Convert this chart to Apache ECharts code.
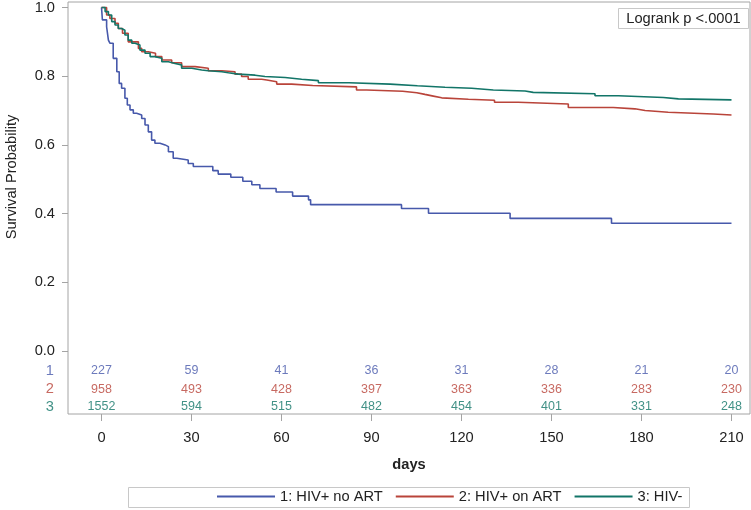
<!DOCTYPE html>
<html>
<head>
<meta charset="utf-8">
<script src="https://cdn.jsdelivr.net/npm/echarts@6/dist/echarts.min.js"></script>
<style>
html,body{margin:0;padding:0;background:#fff;}
#chart{width:751px;height:510px;}
</style>
</head>
<body>
<div id="chart"></div>
<script>
// ---- data ----
const seriesNames = ['1: HIV+ no ART', '2: HIV+ on ART', '3: HIV-'];

const g1Days = [0, 0.3, 1.7, 2.3, 2.8, 3.9, 5.1, 5.9, 6.7, 7.8, 8.6, 9.5, 10.6, 11.7, 13.4, 14.5, 15.6, 16.7, 17.8, 19.5, 21.2, 22.3, 23.9, 25.1, 28.9, 30.6, 37.1, 38.9, 43.1, 47.1, 50.1, 52.8, 58.2, 63.7, 69.0, 69.7, 100.0, 109.0, 136.2, 170.0, 210];
const g1Surv = [1.0, 0.964, 0.944, 0.905, 0.896, 0.852, 0.813, 0.779, 0.765, 0.736, 0.716, 0.702, 0.692, 0.687, 0.677, 0.658, 0.638, 0.614, 0.605, 0.600, 0.595, 0.580, 0.561, 0.556, 0.546, 0.537, 0.525, 0.515, 0.506, 0.494, 0.484, 0.473, 0.463, 0.451, 0.440, 0.426, 0.415, 0.401, 0.386, 0.372, 0.372];

const g2Days = [0, 1.7, 2.8, 4.5, 5.6, 7.0, 8.9, 12.3, 13.4, 15.6, 18.0, 20.1, 23.4, 26.7, 31.2, 35.6, 40.1, 44.5, 46.7, 48.9, 53.4, 55.1, 58.4, 63.4, 70.4, 85.0, 88.4, 100.4, 105.1, 107.8, 110.6, 113.4, 122.3, 131.0, 138.9, 155.6, 170.6, 177.8, 181.2, 188.9, 203.9, 210];
const g2Surv = [1.0, 0.978, 0.968, 0.954, 0.939, 0.925, 0.900, 0.881, 0.871, 0.867, 0.857, 0.847, 0.839, 0.828, 0.823, 0.816, 0.813, 0.806, 0.799, 0.791, 0.789, 0.784, 0.777, 0.773, 0.769, 0.760, 0.756, 0.752, 0.747, 0.742, 0.737, 0.733, 0.730, 0.724, 0.719, 0.709, 0.705, 0.700, 0.695, 0.690, 0.687, 0.687];

const g3Days = [0, 1.2, 2.3, 3.4, 4.5, 5.6, 6.7, 7.8, 8.9, 10.1, 11.2, 12.8, 14.5, 16.2, 17.8, 20.1, 22.3, 24.5, 26.7, 30.1, 33.4, 35.6, 40.1, 42.3, 45.6, 51.2, 54.5, 61.2, 66.7, 72.3, 82.5, 96.2, 105.3, 114.5, 123.4, 130.6, 141.2, 143.9, 164.5, 172.3, 187.3, 192.3, 210];
const g3Surv = [1.0, 0.988, 0.978, 0.959, 0.949, 0.939, 0.934, 0.920, 0.905, 0.896, 0.891, 0.876, 0.867, 0.857, 0.852, 0.842, 0.837, 0.833, 0.823, 0.818, 0.816, 0.813, 0.810, 0.806, 0.803, 0.799, 0.796, 0.791, 0.787, 0.781, 0.777, 0.772, 0.768, 0.765, 0.760, 0.757, 0.753, 0.749, 0.743, 0.738, 0.734, 0.731, 0.731];

const riskDays = [0, 30, 60, 90, 120, 150, 180, 210];
const risk1 = [227, 59, 41, 36, 31, 28, 21, 20];
const risk2 = [958, 493, 428, 397, 363, 336, 283, 230];
const risk3 = [1552, 594, 515, 482, 454, 401, 331, 248];
const riskRowLabels = ['1', '2', '3'];

const xTicks = [0, 30, 60, 90, 120, 150, 180, 210];
const yTicks = [0, 0.2, 0.4, 0.6, 0.8, 1.0];

// ---- styling / layout ----
const colors = ['#4759ab', '#b9443a', '#127568'];
const FONT = '"Liberation Sans", Arial, sans-serif';
const FS = 14.67;
const riskRowY = [-0.058, -0.111, -0.163];
const rowLabelX = -17.2;

function zip(a, b) { return a.map((v, i) => [v, b[i]]); }

const lineSeries = [[g1Days, g1Surv], [g2Days, g2Surv], [g3Days, g3Surv]].map((d, i) => ({
  name: seriesNames[i],
  type: 'line',
  step: 'end',
  showSymbol: false,
  symbol: 'none',
  data: zip(d[0], d[1]),
  lineStyle: { color: colors[i], width: 1.6 },
  itemStyle: { color: colors[i] },
  emphasis: { disabled: true },
  z: 3
}));

const riskSeries = [risk1, risk2, risk3].map((r, i) => ({
  name: 'risk' + (i + 1),
  type: 'scatter',
  symbolSize: 0,
  clip: false,
  silent: true,
  data: riskDays.map((d, j) => [d, riskRowY[i], r[j]]),
  label: {
    show: true, position: 'inside',
    formatter: p => String(p.value[2]),
    color: colors[i], fontSize: 12.5, fontFamily: FONT
  }
}));

const rowLabelSeries = {
  name: 'rowlabels',
  type: 'scatter',
  symbolSize: 0,
  clip: false,
  silent: true,
  data: riskRowLabels.map((t, i) => ({ value: [rowLabelX, riskRowY[i]], label: { color: colors[i] } })),
  label: {
    show: true, position: 'inside',
    formatter: p => riskRowLabels[p.dataIndex],
    fontSize: FS, fontFamily: FONT
  }
};

const chart = echarts.init(document.getElementById('chart'), null, { renderer: 'canvas' });
chart.setOption({
  animation: false,
  backgroundColor: '#ffffff',
  textStyle: { fontFamily: FONT },
  grid: {
    left: 68, right: 1, top: 2, bottom: 96,
    show: true, borderColor: '#a4a4a4', borderWidth: 1, backgroundColor: 'transparent'
  },
  xAxis: {
    type: 'value',
    position: 'bottom',
    min: -11.17, max: 216.17,
    name: 'days',
    nameLocation: 'middle',
    nameGap: 43,
    nameTextStyle: { fontSize: FS, fontWeight: 'bold', color: '#222', fontFamily: FONT },
    axisLine: { show: false, onZero: false },
    splitLine: { show: false },
    axisTick: { show: true, customValues: xTicks, length: 7, lineStyle: { color: '#a4a4a4' } },
    axisLabel: { customValues: xTicks, margin: 16, fontSize: FS, color: '#222', fontFamily: FONT }
  },
  yAxis: {
    type: 'value',
    position: 'left',
    min: -0.1834, max: 1.016,
    axisLine: { show: false, onZero: false },
    splitLine: { show: false },
    axisTick: { show: true, customValues: yTicks, length: 6, lineStyle: { color: '#a4a4a4' } },
    axisLabel: { customValues: yTicks, margin: 13, fontSize: FS, color: '#222', fontFamily: FONT,
      formatter: v => v.toFixed(1) }
  },
  legend: {
    data: seriesNames,
    left: 212, top: 484,
    itemWidth: 58, itemHeight: 2,
    itemGap: 13,
    icon: 'rect',
    textStyle: { fontSize: FS, color: '#222', fontFamily: FONT },
    selectedMode: false
  },
  graphic: [
    {
      type: 'text', x: 12, y: 177, rotation: Math.PI / 2,
      style: { text: 'Survival Probability', fill: '#222', font: FS + 'px ' + FONT, textAlign: 'center', textVerticalAlign: 'middle' }
    },
    {
      type: 'rect', shape: { x: 618.5, y: 8.5, width: 130, height: 20 },
      style: { fill: '#fff', stroke: '#c8c8c8', lineWidth: 1 }, z: 10
    },
    {
      type: 'text', x: 683.5, y: 18.5, z: 11,
      style: { text: 'Logrank p <.0001', fill: '#222', font: FS + 'px ' + FONT, textAlign: 'center', textVerticalAlign: 'middle' }
    },
    {
      type: 'rect', shape: { x: 128.5, y: 487.5, width: 561, height: 20 },
      style: { fill: 'none', stroke: '#c8c8c8', lineWidth: 1 }, z: 0
    }
  ],
  series: [...lineSeries, ...riskSeries, rowLabelSeries]
});
</script>
</body>
</html>
